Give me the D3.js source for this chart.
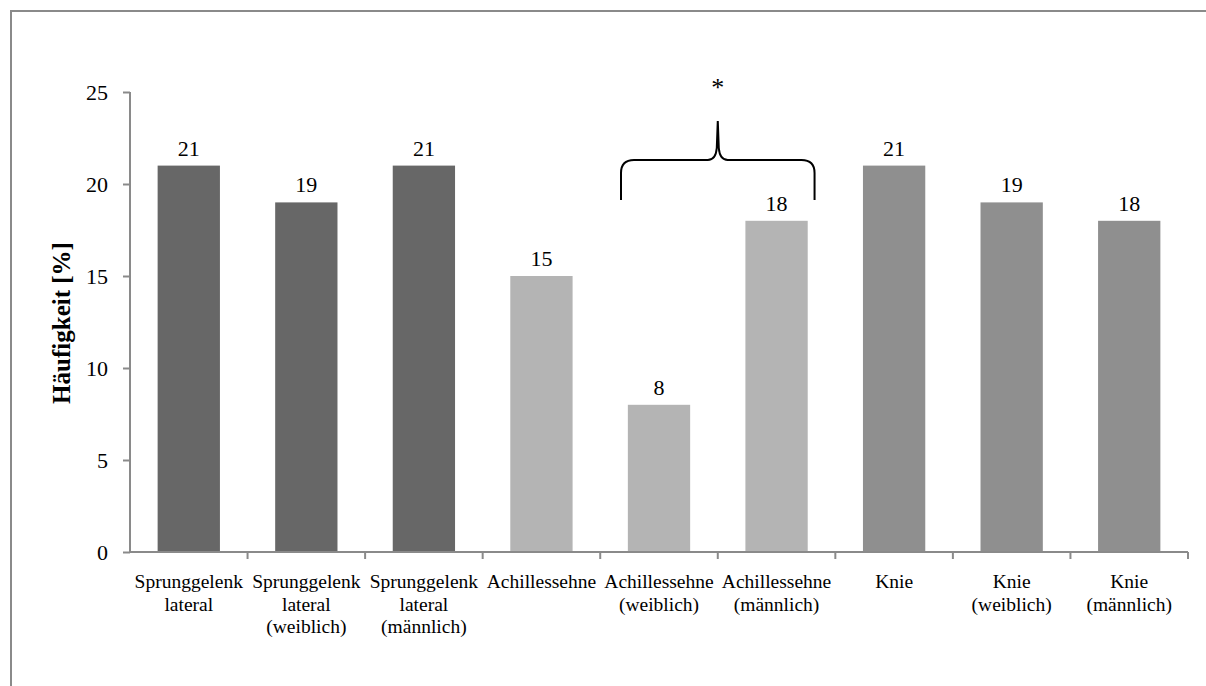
<!DOCTYPE html>
<html>
<head>
<meta charset="utf-8">
<script src="https://cdn.jsdelivr.net/npm/d3@7"></script>
<style>
  html, body { margin: 0; padding: 0; background: #fff; }
  svg { display: block; }
  svg text { font-family: 'Liberation Serif', 'Times New Roman', Times, serif; fill: #000; }
</style>
</head>
<body>
<svg id="chart" width="1206" height="686"></svg>
<script>
// Frequency of findings per location (percent)
const categories = [
  ["Sprunggelenk", "lateral"],
  ["Sprunggelenk", "lateral", "(weiblich)"],
  ["Sprunggelenk", "lateral", "(männlich)"],
  ["Achillessehne"],
  ["Achillessehne", "(weiblich)"],
  ["Achillessehne", "(männlich)"],
  ["Knie"],
  ["Knie", "(weiblich)"],
  ["Knie", "(männlich)"]
];
const values = [21, 19, 21, 15, 8, 18, 21, 19, 18];
const groups = ["ankle", "ankle", "ankle", "achilles", "achilles", "achilles", "knee", "knee", "knee"];
const yTicks = [0, 5, 10, 15, 20, 25];
const yTitle = "Häufigkeit [%]";
const significance = "*";

const colors = { ankle: "#676767", achilles: "#b4b4b4", knee: "#8f8f8f" };
const serif = "'Liberation Serif', 'Times New Roman', Times, serif";

const svg = d3.select("#chart");

// outer frame
svg.append("rect")
  .attr("x", 11).attr("y", 11)
  .attr("width", 1210).attr("height", 700)
  .attr("fill", "none").attr("stroke", "#8a8a8a").attr("stroke-width", 2);

const plotLeft = 130, plotRight = 1188, plotTop = 92, plotBottom = 552;

const x = d3.scaleBand()
  .domain(d3.range(categories.length))
  .range([plotLeft, plotRight])
  .paddingInner(0.47).paddingOuter(0.235);

const y = d3.scaleLinear().domain([0, 25]).range([plotBottom, plotTop]);

// bars
svg.append("g").selectAll("rect")
  .data(values)
  .join("rect")
  .attr("x", (d, i) => x(i))
  .attr("width", x.bandwidth())
  .attr("y", d => y(d))
  .attr("height", d => y(0) - y(d))
  .attr("fill", (d, i) => colors[groups[i]]);

// value labels
svg.append("g").selectAll("text")
  .data(values)
  .join("text")
  .attr("x", (d, i) => x(i) + x.bandwidth() / 2)
  .attr("y", d => y(d) - 10)
  .attr("text-anchor", "middle")
  .attr("font-family", serif)
  .attr("font-size", 22)
  .text(d => d);

// y axis
const yAxis = svg.append("g")
  .attr("transform", `translate(${plotLeft},0)`)
  .call(d3.axisLeft(y).tickValues(yTicks).tickSize(7).tickPadding(15));
yAxis.attr("font-family", serif);
yAxis.select(".domain").attr("stroke", "#8a8a8a").attr("stroke-width", 2)
  .attr("d", `M0,${plotTop}V${plotBottom}`);
yAxis.selectAll(".tick line").attr("stroke", "#8a8a8a").attr("stroke-width", 2);
yAxis.selectAll(".tick text")
  .attr("font-family", serif)
  .attr("font-size", 22).attr("fill", "#000");

// x axis baseline with ticks between categories
const boundaries = d3.range(categories.length + 1)
  .map(i => plotLeft + i * (plotRight - plotLeft) / categories.length);
const xAxisG = svg.append("g");
xAxisG.append("line")
  .attr("x1", plotLeft).attr("x2", plotRight)
  .attr("y1", plotBottom).attr("y2", plotBottom)
  .attr("stroke", "#8a8a8a").attr("stroke-width", 2);
xAxisG.selectAll("line.tick")
  .data(boundaries.slice(1))
  .join("line")
  .attr("class", "tick")
  .attr("x1", d => d).attr("x2", d => d)
  .attr("y1", plotBottom).attr("y2", plotBottom + 7)
  .attr("stroke", "#8a8a8a").attr("stroke-width", 2);

// category labels
const catG = svg.append("g").selectAll("text")
  .data(categories)
  .join("text")
  .attr("x", (d, i) => x(i) + x.bandwidth() / 2)
  .attr("y", 588)
  .attr("text-anchor", "middle")
  .attr("font-family", serif)
  .attr("font-size", 19.5);
catG.selectAll("tspan")
  .data(d => d)
  .join("tspan")
  .attr("x", function () { return d3.select(this.parentNode).attr("x"); })
  .attr("dy", (d, j) => j === 0 ? 0 : 22.5)
  .text(d => d);

// y axis title
svg.append("text")
  .attr("transform", "translate(70, 323) rotate(-90)")
  .attr("text-anchor", "middle")
  .attr("font-family", serif)
  .attr("font-size", 25)
  .attr("font-weight", "bold")
  .text(yTitle);

// significance brace over the Achilles gender comparison
const bx0 = x(4) + x.bandwidth() / 2 - 38;
const bx1 = x(5) + x.bandwidth() / 2 + 38;
const bmid = (bx0 + bx1) / 2;
const yBot = 200, yBar = 160, yTip = 121;
const r = 13;
const brace = d3.path();
brace.moveTo(bx0, yBot);
brace.lineTo(bx0, yBar + r);
brace.quadraticCurveTo(bx0, yBar, bx0 + r, yBar);
brace.lineTo(bmid - 10, yBar);
brace.quadraticCurveTo(bmid - 2, yBar, bmid - 1, yBar - 12);
brace.lineTo(bmid, yTip);
brace.moveTo(bmid, yTip);
brace.lineTo(bmid + 1, yBar - 12);
brace.quadraticCurveTo(bmid + 2, yBar, bmid + 10, yBar);
brace.lineTo(bx1 - r, yBar);
brace.quadraticCurveTo(bx1, yBar, bx1, yBar + r);
brace.lineTo(bx1, yBot);
svg.append("path")
  .attr("d", brace.toString())
  .attr("fill", "none")
  .attr("stroke", "#000")
  .attr("stroke-width", 2);

svg.append("text")
  .attr("x", bmid)
  .attr("y", 96)
  .attr("text-anchor", "middle")
  .attr("font-family", serif)
  .attr("font-size", 26)
  .text(significance);
</script>
</body>
</html>
